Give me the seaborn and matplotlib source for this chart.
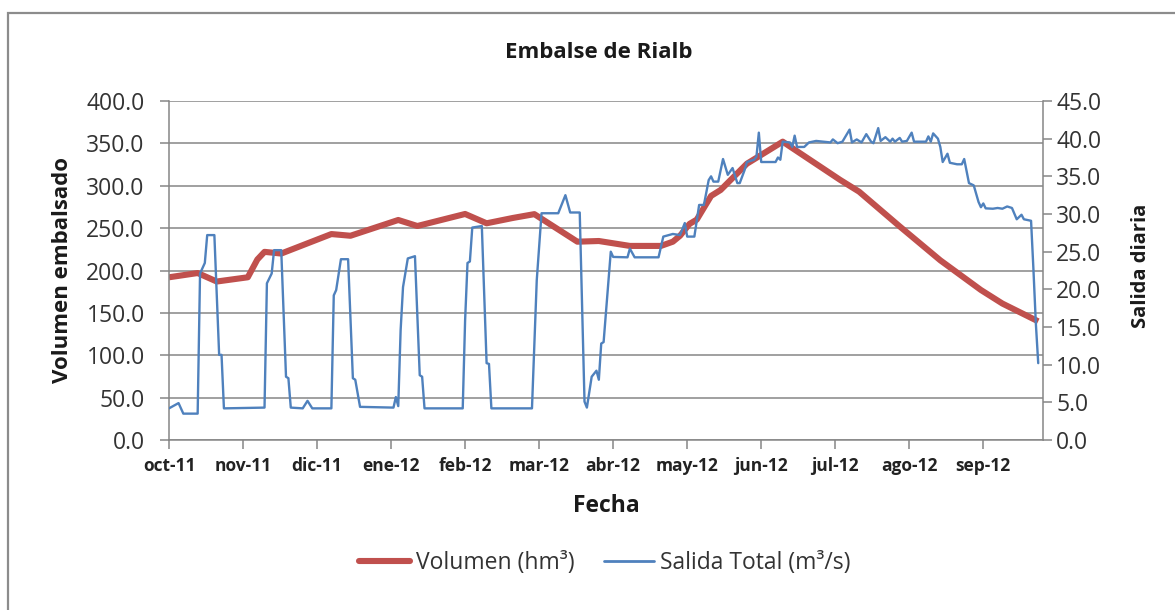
import numpy as np
import pandas as pd
import matplotlib
matplotlib.use("Agg")
import matplotlib.pyplot as plt
import seaborn as sns
from matplotlib.patches import Rectangle
from matplotlib.lines import Line2D

# ---------------- data ----------------
inicio = "2011-10-01"

# Volumen embalsado (hm3): days since 2011-10-01 and value
vol_dias = [0, 12, 20, 33, 37, 40, 47, 68, 76, 96, 104, 124, 133, 144, 153, 171, 180,
            193, 206, 211, 214, 218, 221, 227, 231, 242, 257, 281, 289, 306, 323, 340,
            349, 364]
vol_hm3 = [192, 197, 187, 192, 213, 222, 220, 243, 241, 259.6, 252.5, 266.7, 255.7, 262,
           266.5, 234, 234.8, 229, 229, 234, 241, 255, 260, 288, 295, 326, 352, 307, 293,
           252, 212, 177, 161, 140]

# Salida total (m3/s): days since 2011-10-01 and value
sal_dias = [0, 4, 6, 12, 13, 15, 16, 19, 21, 22, 23, 40, 41, 43, 44, 47, 49, 50, 51, 56,
            58, 60, 68, 69, 70, 72, 75, 77, 78, 80, 94, 95, 96, 97, 98, 100, 103, 105, 106,
            107, 123, 124, 125, 126, 127, 131, 133, 134, 135, 152, 154, 156, 163, 166, 168,
            172, 174, 175, 177, 179, 180, 181, 182, 185, 186, 192, 193, 195, 205, 207, 211,
            214, 216, 217, 220, 222, 224, 226, 227, 228, 230, 232, 234, 236, 238, 239, 241,
            242, 245, 246, 247, 248, 254, 255, 256, 257, 260, 261, 262, 263, 266, 268, 271,
            277, 278, 280, 282, 285, 286, 288, 290, 292, 294, 295, 297, 298, 300, 302, 303,
            304, 306, 307, 309, 311, 312, 317, 318, 319, 320, 322, 323, 324, 326, 327, 330,
            332, 333, 335, 337, 339, 340, 341, 342, 345, 347, 349, 351, 353, 355, 357, 358,
            361, 362, 363, 364]
sal_m3s = [4.2, 4.9, 3.5, 3.5, 22.1, 23.5, 27.2, 27.2, 11.3, 11.3, 4.2, 4.3, 20.8, 22.1,
           25.2, 25.2, 8.4, 8.2, 4.3, 4.2, 5.2, 4.2, 4.2, 19.2, 19.9, 24.0, 24.0, 8.2, 8.0,
           4.4, 4.3, 5.7, 4.5, 14.6, 20.3, 24.1, 24.4, 8.6, 8.4, 4.2, 4.2, 15.9, 23.5, 23.7,
           28.2, 28.4, 10.2, 10.1, 4.2, 4.2, 21.2, 30.1, 30.1, 32.5, 30.2, 30.2, 5.1, 4.3,
           8.4, 9.2, 8.0, 12.8, 13.0, 25.0, 24.3, 24.25, 25.4, 24.25, 24.25, 27.0, 27.35,
           27.2, 28.8, 27.0, 27.0, 31.2, 31.2, 34.5, 35.0, 34.3, 34.3, 37.3, 35.2, 36.1,
           34.1, 34.1, 35.8, 36.9, 37.2, 37.6, 40.8, 36.9, 36.9, 37.5, 37.2, 39.6, 39.5,
           38.9, 40.4, 38.9, 38.9, 39.5, 39.7, 39.5, 39.9, 39.4, 39.6, 41.2, 39.5, 39.9,
           39.5, 40.6, 39.6, 39.4, 41.4, 39.7, 40.2, 39.6, 40.0, 39.6, 40.1, 39.6, 39.7,
           40.8, 39.6, 39.6, 40.3, 39.6, 40.7, 40.0, 38.9, 36.9, 38.0, 36.8, 36.6, 36.6,
           37.3, 34.1, 33.8, 31.6, 30.9, 31.4, 30.75, 30.7, 30.8, 30.7, 31.0, 30.8, 29.3,
           29.9, 29.3, 29.1, 22.6, 15.5, 10.2]

meses = ["oct-11", "nov-11", "dic-11", "ene-12", "feb-12", "mar-12", "abr-12",
         "may-12", "jun-12", "jul-12", "ago-12", "sep-12"]
vol_ticks = [0, 50, 100, 150, 200, 250, 300, 350, 400]
sal_ticks = [0, 5, 10, 15, 20, 25, 30, 35, 40, 45]

# ---------------- style ----------------
sns.set_theme(style="white")
plt.rcParams['font.family'] = ['Open Sans', 'DejaVu Sans']

ROJO = "#C0504D"
AZUL = "#4F81BD"
GRIS = "#868686"
TEXTO = "#333333"

W, H = 1175, 610
fig = plt.figure(figsize=(W / 100, H / 100), dpi=100)
fig.patch.set_facecolor("white")

L, R, T, B = 169, 1043, 101, 440
ax = fig.add_axes([L / W, 1 - B / H, (R - L) / W, (B - T) / H])

t0 = pd.Timestamp(inicio)
df_vol = pd.DataFrame({"Fecha": t0 + pd.to_timedelta(vol_dias, unit="D"),
                       "Volumen": vol_hm3})
df_sal = pd.DataFrame({"Fecha": t0 + pd.to_timedelta(sal_dias, unit="D"),
                       "Salida": sal_m3s})

sns.lineplot(data=df_vol, x="Fecha", y="Volumen", ax=ax, color=ROJO, lw=4.4,
             solid_capstyle="butt", legend=False)
ax2 = ax.twinx()
sns.lineplot(data=df_sal, x="Fecha", y="Salida", ax=ax2, color=AZUL, lw=1.7,
             legend=False)

# x axis: major unit of 31 days, as in the source chart
fechas_ticks = [t0 + pd.Timedelta(days=31 * k) for k in range(len(meses))]
ax.set_xlim(t0, t0 + pd.Timedelta(days=366))
ax.set_xticks(fechas_ticks)
ax.set_xticklabels(meses, fontweight="bold", fontsize=12.5, color="#222222")

# left axis
ax.set_ylim(0, 400)
ax.set_yticks(vol_ticks)
ax.set_yticklabels([f"{v:.1f}" for v in vol_ticks], fontsize=16.5, color=TEXTO)
ax.yaxis.grid(True, color=GRIS, lw=1.1)
ax.xaxis.grid(False)

# right axis
ax2.set_ylim(0, 45)
ax2.set_yticks(sal_ticks)
ax2.set_yticklabels([f"{v:.1f}" for v in sal_ticks], fontsize=16.5, color=TEXTO)
ax2.grid(False)

ax.set_xlabel("")
ax.set_ylabel("")
ax2.set_xlabel("")
ax2.set_ylabel("")

for a in (ax, ax2):
    a.spines["top"].set_visible(False)
    for s in ("left", "right", "bottom"):
        a.spines[s].set_color(GRIS)
        a.spines[s].set_linewidth(1.1)
ax.spines["right"].set_visible(False)
ax2.spines["left"].set_visible(False)
ax2.spines["bottom"].set_visible(False)

ax.tick_params(axis="y", direction="out", length=6.5, width=1.1, color=GRIS, pad=11,
               left=True)
ax.tick_params(axis="x", direction="out", length=6.5, width=1.1, color=GRIS, pad=6,
               bottom=True)
ax2.tick_params(axis="y", direction="out", length=6.5, width=1.1, color=GRIS, pad=3,
                right=True)

# texts
fig.text(599 / W, 1 - 52 / H, "Embalse de Rialb", ha="center", va="center",
         fontsize=16, fontweight="bold", color="#1a1a1a")
fig.text(62 / W, 1 - 270 / H, "Volumen embalsado", ha="center", va="center",
         rotation=90, fontsize=16, fontweight="bold", color="#1a1a1a")
fig.text(1141 / W, 1 - 266 / H, "Salida diaria", ha="center", va="center",
         rotation=90, fontsize=14.5, fontweight="bold", color="#1a1a1a")
fig.text(606 / W, 1 - 506 / H, "Fecha", ha="center", va="center",
         fontsize=16.5, fontweight="bold", color="#1a1a1a")

# legend
handles = [Line2D([], [], color=ROJO, lw=4.4), Line2D([], [], color=AZUL, lw=2)]
fig.legend(handles, ["Volumen (hm³)", "Salida Total (m³/s)"], loc="center",
           bbox_to_anchor=(605 / W, 1 - 563 / H), ncol=2, frameon=False,
           fontsize=16.5, handlelength=2.2, handletextpad=0.25, columnspacing=1.3,
           labelcolor=TEXTO)

# chart-area border
fig.patches.append(Rectangle((8 / W, -0.2), 1.2, (1 - 13 / H) + 0.2,
                             transform=fig.transFigure, fill=False,
                             ec="#8c8c8c", lw=1.6, zorder=0))

fig.savefig("out.png", dpi=100, facecolor="white")
